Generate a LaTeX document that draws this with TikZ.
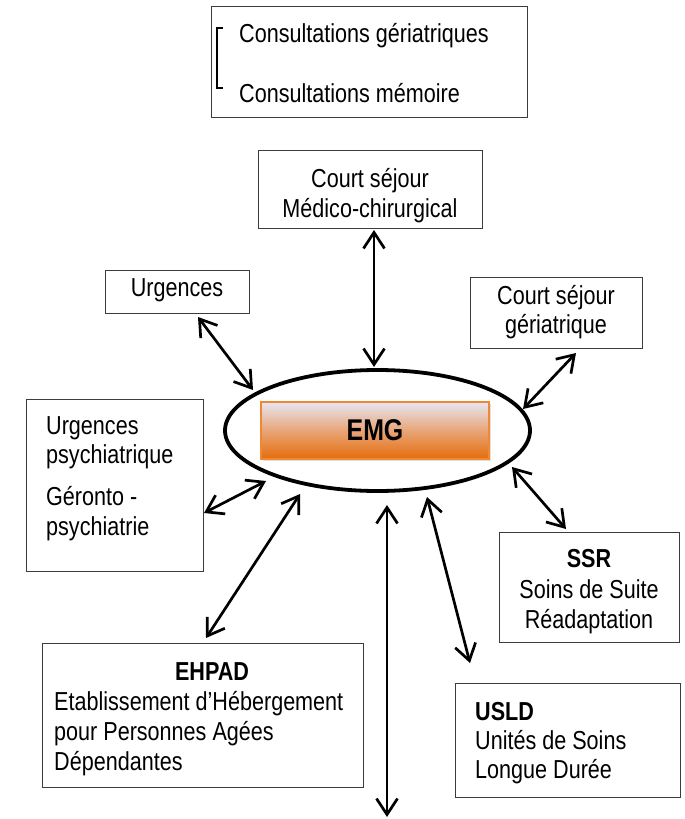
\documentclass[tikz,border=0pt]{standalone}
\usepackage{fontspec}
\setmainfont{Liberation Sans}[FakeStretch=0.83]
\usetikzlibrary{arrows.meta,shapes.geometric,shadows}
\definecolor{emgtop}{RGB}{230,230,242}
\definecolor{emgmid}{RGB}{232,165,120}
\definecolor{emgbot}{RGB}{228,108,10}
\definecolor{emgline}{RGB}{240,135,50}
\definecolor{boxline}{RGB}{60,60,60}
\begin{document}
\begin{tikzpicture}[x=1pt,y=-1pt,
  box/.style={draw=boxline, line width=1.2pt, inner sep=0pt, anchor=north west},
  lbl/.style={inner sep=0pt, font=\fontsize{26}{31}\selectfont},
  arr/.style={line width=2.7pt, line cap=round, line join=round,
    {Straight Barb[length=16pt,width=21pt]}-{Straight Barb[length=16pt,width=21pt]}}]
\useasboundingbox (0,0) rectangle (685,819);
\fill[white] (0,0) rectangle (685,819);

% boxes
\node[box, minimum width=316pt, minimum height=111pt] (top) at (211,6) {};
\node[box, minimum width=224pt, minimum height=78pt] (cs) at (258,150) {};
\node[box, minimum width=144pt, minimum height=43pt] (urg) at (105,270) {};
\node[box, minimum width=172pt, minimum height=71pt] (csg) at (470,277) {};
\node[box, minimum width=177pt, minimum height=172pt] (psy) at (26,399) {};
\node[box, minimum width=180pt, minimum height=110pt] (ssr) at (499,532) {};
\node[box, minimum width=321pt, minimum height=144pt] (ehpad) at (42,643) {};
\node[box, minimum width=225pt, minimum height=114pt] (usld) at (455,683) {};

% bracket
\draw[line width=1.3pt] (223,28) -- (217,28) -- (217,88) -- (223,88);

% texts
\node[lbl, anchor=base west] (t1) at (239,42) {Consultations gériatriques};
\node[lbl, anchor=base west] (t2) at (239,102) {Consultations mémoire};
\node[lbl, anchor=base] (cs1) at (370,187) {Court séjour};
\node[lbl, anchor=base] (cs2) at (370,217) {Médico-chirurgical};
\node[lbl, anchor=base] (urgt) at (177,296) {Urgences};
\node[lbl, anchor=base] (csg1) at (556,304) {Court séjour};
\node[lbl, anchor=base] (csg2) at (556,333) {gériatrique};
\node[lbl, anchor=base west] (p1) at (46,434) {Urgences};
\node[lbl, anchor=base west] (p2) at (46,463) {psychiatrique};
\node[lbl, anchor=base west] (p3) at (46,505) {Géronto -};
\node[lbl, anchor=base west] (p4) at (46,535) {psychiatrie};
\node[lbl, anchor=base] (s1) at (589,567) {\bfseries SSR};
\node[lbl, anchor=base] (s2) at (589,598) {Soins de Suite};
\node[lbl, anchor=base] (s3) at (589,628) {Réadaptation};
\node[lbl, anchor=base] (e1) at (212,680) {\bfseries EHPAD};
\node[lbl, anchor=base west] (e2) at (54,710) {Etablissement d’Hébergement};
\node[lbl, anchor=base west] (e3) at (54,740) {pour Personnes Agées};
\node[lbl, anchor=base west] (e4) at (54,770) {Dépendantes};
\node[lbl, anchor=base west] (u1) at (475,720) {\bfseries USLD};
\node[lbl, anchor=base west] (u2) at (475,749) {Unités de Soins};
\node[lbl, anchor=base west] (u3) at (475,778) {Longue Durée};

% central ellipse and EMG
\node[draw, ellipse, line width=3.8pt, minimum width=305pt, minimum height=121pt, inner sep=0pt] (ell) at (377.5,430.5) {};
\node[draw=emgline, line width=1.2pt, minimum width=228pt, minimum height=57pt, inner sep=0pt,
  top color=emgtop, bottom color=emgbot, middle color=emgmid,
  drop shadow={opacity=0.25, shadow xshift=2pt, shadow yshift=-2pt},
  font=\fontsize{30}{34}\selectfont\bfseries] (emg) at (375,430.5) {EMG};

% arrow end points
\coordinate (a1s) at (374,230); \coordinate (a1e) at (374,367);
\coordinate (a2s) at (198,317); \coordinate (a2e) at (253,390);
\coordinate (a3s) at (576,353); \coordinate (a3e) at (523,409);
\coordinate (a4s) at (512,467); \coordinate (a4e) at (566,529);
\coordinate (a5s) at (204,513); \coordinate (a5e) at (266,481);
\coordinate (a6s) at (206,638); \coordinate (a6e) at (300,494);
\coordinate (a7s) at (387,505); \coordinate (a7e) at (387,817);
\coordinate (a8s) at (427,497); \coordinate (a8e) at (470,663);

\draw[arr] (a1s) -- (a1e);
\draw[arr] (a2s) -- (a2e);
\draw[arr] (a3s) -- (a3e);
\draw[arr] (a4s) -- (a4e);
\draw[arr] (a5s) -- (a5e);
\draw[arr] (a6s) -- (a6e);
\draw[arr] (a7s) -- (a7e);
\draw[arr] (a8s) -- (a8e);
\end{tikzpicture}
\end{document}
